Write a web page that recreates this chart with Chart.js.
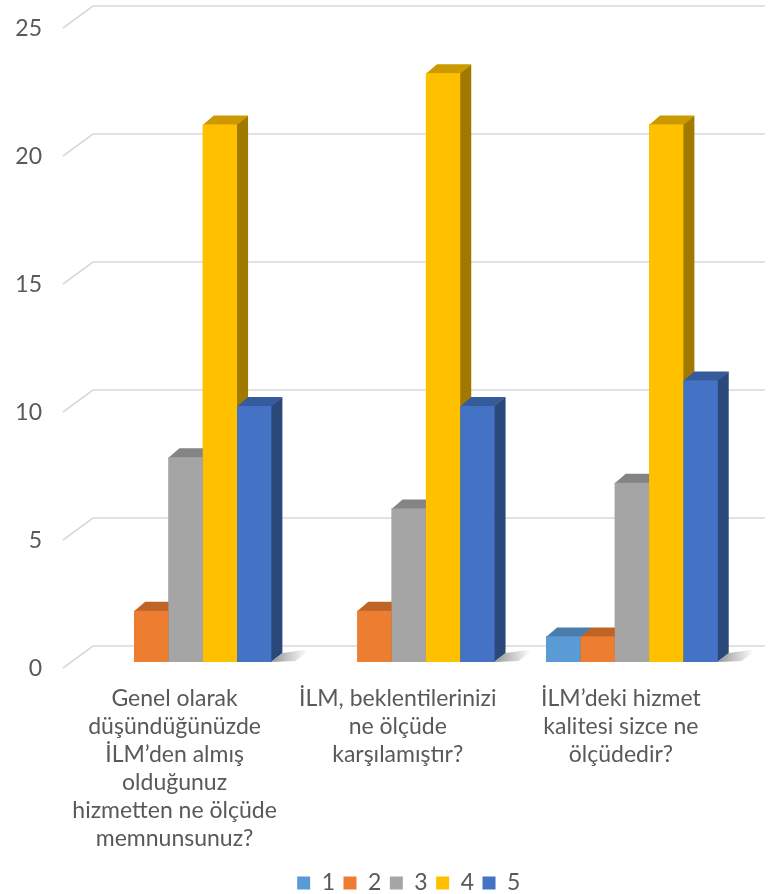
<!DOCTYPE html>
<html>
<head>
<meta charset="utf-8">
<title>Memnuniyet anketi</title>
<script src="https://cdn.jsdelivr.net/npm/chart.js@4.4.1/dist/chart.umd.min.js"></script>
<style>
  html, body { margin: 0; padding: 0; background: #ffffff; }
  #c { display: block; }
</style>
</head>
<body>
<canvas id="c" width="779" height="894"></canvas>
<script>
// Survey questions (multi-line category labels)
const categories = [
  ["Genel olarak", "düşündüğünüzde", "İLM’den almış", "olduğunuz", "hizmetten ne ölçüde", "memnunsunuz?"],
  ["İLM, beklentilerinizi", "ne ölçüde", "karşılamıştır?"],
  ["İLM’deki hizmet", "kalitesi sizce ne", "ölçüdedir?"]
];
// Answer scale 1..5, counts per question
const seriesNames = ["1", "2", "3", "4", "5"];
const answer1 = [0, 0, 1];
const answer2 = [2, 2, 1];
const answer3 = [8, 6, 7];
const answer4 = [21, 23, 21];
const answer5 = [10, 10, 11];
const yTicks = [0, 5, 10, 15, 20, 25];

const seriesValues = [answer1, answer2, answer3, answer4, answer5];
const seriesColors = ["#5B9BD5", "#ED7D31", "#A5A5A5", "#FFC000", "#4472C4"];

const FONT = "Lato, 'Open Sans', sans-serif";
const TEXT = "#595959";
const DX = 11, DY = 9;          // bar depth projection
const GRID_BACK = -16, GRID_FRONT = 6;

function shade(hex, f) {
  const n = parseInt(hex.slice(1), 16);
  const r = Math.round(((n >> 16) & 255) * f);
  const g = Math.round(((n >> 8) & 255) * f);
  const b = Math.round((n & 255) * f);
  return `rgb(${r},${g},${b})`;
}
function poly(ctx, pts) {
  ctx.beginPath();
  ctx.moveTo(pts[0][0], pts[0][1]);
  for (let k = 1; k < pts.length; k++) ctx.lineTo(pts[k][0], pts[k][1]);
  ctx.closePath();
  ctx.fill();
}

// Back wall grid, floor shadows and 3D bar faces
const depthPlugin = {
  id: "depth3d",
  beforeDatasetsDraw(chart) {
    const { ctx, chartArea, scales: { y } } = chart;
    ctx.save();
    ctx.strokeStyle = "#D9D9D9";
    ctx.lineWidth = 1.6;
    y.ticks.forEach(t => {
      const py = y.getPixelForValue(t.value);
      ctx.beginPath();
      ctx.moveTo(chartArea.left - 11, py + GRID_FRONT);
      ctx.lineTo(chartArea.left + 19, py + GRID_BACK);
      ctx.lineTo(765, py + GRID_BACK);
      ctx.stroke();
    });
    // floor shadows
    chart.data.datasets.forEach((ds, i) => {
      chart.getDatasetMeta(i).data.forEach((bar, j) => {
        if (!ds.data[j]) return;
        const { x, base, width } = bar.getProps(["x", "base", "width"], true);
        const R = x + width / 2;
        const g = ctx.createLinearGradient(R, 0, R + 36, 0);
        g.addColorStop(0, "rgba(0,0,0,0.42)");
        g.addColorStop(1, "rgba(0,0,0,0)");
        ctx.fillStyle = g;
        poly(ctx, [[R, base], [R + DX, base - DY], [R + 40, base - DY - 4], [R + 24, base - 1]]);
      });
    });
    ctx.restore();
  },
  afterDatasetsDraw(chart) {
    const ctx = chart.ctx;
    ctx.save();
    chart.data.datasets.forEach((ds, i) => {
      chart.getDatasetMeta(i).data.forEach((bar, j) => {
        if (!ds.data[j]) return;
        const { x, y, base, width } = bar.getProps(["x", "y", "base", "width"], true);
        const L = x - width / 2, R = x + width / 2;
        const c = ds.backgroundColor;
        ctx.fillStyle = shade(c, 0.63);
        poly(ctx, [[R - 0.5, y], [R + DX, y - DY], [R + DX, base - DY], [R - 0.5, base]]);
        ctx.fillStyle = shade(c, 0.8);
        poly(ctx, [[L, y + 0.5], [L + DX, y - DY], [R + DX, y - DY], [R, y + 0.5]]);
        ctx.fillStyle = c;
        ctx.fillRect(L, y, width, base - y);
      });
    });
    ctx.restore();
  }
};

new Chart(document.getElementById("c"), {
  type: "bar",
  data: {
    labels: categories,
    datasets: seriesNames.map((name, i) => ({
      label: name,
      data: seriesValues[i],
      backgroundColor: seriesColors[i],
      borderWidth: 0,
      categoryPercentage: 0.769,
      barPercentage: 1.0
    }))
  },
  options: {
    responsive: false,
    animation: false,
    devicePixelRatio: 1,
    layout: { padding: { top: 22, left: 0, right: 35.5, bottom: -10.5 } },
    plugins: {
      tooltip: { enabled: false },
      legend: {
        position: "bottom",
        fullSize: false,
        labels: {
          boxWidth: 13,
          boxHeight: 13,
          padding: 8.5,
          color: TEXT,
          font: { family: FONT, size: 23 },
          sort: (a, b) => a.datasetIndex - b.datasetIndex
        }
      }
    },
    scales: {
      x: {
        grid: { display: false, drawTicks: false },
        border: { display: false },
        ticks: {
          color: TEXT,
          font: { family: FONT, size: 23, lineHeight: 28 / 23 },
          padding: 23,
          labelOffset: -11,
          maxRotation: 0,
          autoSkip: false
        },
        afterFit: s => { s.height = 201; s.paddingLeft = 0; s.paddingRight = 0; }
      },
      y: {
        min: 0,
        max: 25,
        grid: { display: false, drawTicks: false },
        border: { display: false },
        ticks: {
          color: TEXT,
          font: { family: FONT, size: 23 },
          padding: 32,
          labelOffset: 6.5
        },
        afterBuildTicks: s => { s.ticks = yTicks.map(v => ({ value: v })); },
        afterFit: s => { s.width = 74; s.paddingTop = 0; s.paddingBottom = 0; }
      }
    }
  },
  plugins: [depthPlugin]
});
</script>
</body>
</html>
